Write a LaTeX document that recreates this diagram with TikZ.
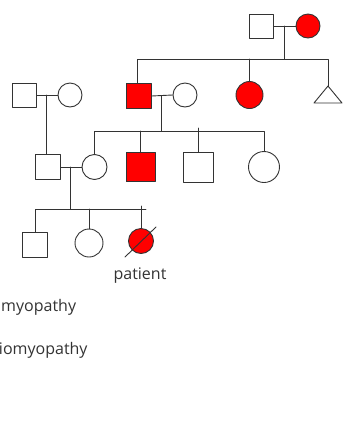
\documentclass[tikz,border=0pt]{standalone}
\usepackage{fontspec}
\setmainfont{Open Sans}
\usepackage{tikz}
\usetikzlibrary{positioning}
\usetikzlibrary{calc}
\definecolor{inkgray}{HTML}{333333}
\tikzstyle{every node}=[font=\fontsize{16}{19}\selectfont,text=inkgray]
\tikzstyle{every path}=[line width=0.9pt,line cap=round,line join=round,color=inkgray]
\tikzstyle{male}=[draw,rectangle,inner sep=0,minimum size=24pt]
\tikzstyle{female}=[draw,circle,inner sep=0,minimum size=24pt]
\tikzstyle{affected}=[fill=red]

\begin{document}
\begin{tikzpicture}[x=1pt,y=-1pt]
  \useasboundingbox (0,0) rectangle (343,440);
  % generation I
  \node[male] (m1) at (261.5,26) {};
  \node[female,affected] (f1) at (308,26) {};
  % generation II
  \node[male] (m2) at (24,95) {};
  \node[female] (f2) at (70,95) {};
  \node[male,affected,minimum size=25pt] (m3) at (138.5,96) {};
  \node[female] (f3) at (185,95) {};
  \node[female,affected,minimum size=27pt] (f4) at (249.5,95) {};
  \coordinate (tri) at (328,86);
  \draw (tri)--++(14,17)--++(-28,0)--cycle;
  % generation III
  \node[male,minimum size=25pt] (m4) at (47.5,167) {};
  \node[female,minimum size=25pt] (f5) at (94.5,167) {};
  \node[male,affected,minimum size=29pt] (m5) at (140.5,167) {};
  \node[male,minimum size=30pt] (m6) at (198,167.5) {};
  \node[female,minimum size=31pt] (f6) at (264,167) {};
  % generation IV
  \node[male,minimum size=25pt] (m7) at (35,244.5) {};
  \node[female,minimum size=28pt] (f7) at (89,243) {};
  \node[female,affected,minimum size=25pt] (f8) at (141,241) {};
  \draw (f8.center)++(-16,16)--++(31,-30);
  \node[inner sep=0,anchor=base] (pat) at (140,279) {patient};
  % legend
  \node[inner sep=0,anchor=base west] (lg1) at (0.8,311) {myopathy};
  \node[inner sep=0,anchor=base east] (lg2) at (88,354) {iomyopathy};
  %
  \coordinate (s1) at (284,59);
  \coordinate (s2) at (161,131);
  \coordinate (s3) at (70,209);
  \draw (m1.east)--(f1.west);
  \draw (s1)--(s1 |- m1.east);
  \draw (m3.north -| 137,0) |- (tri |- s1)--(tri);
  \draw (f4.north)--(f4.north |- s1);
  \draw (m2.east)--(f2.west);
  \draw (m4.north -| 46,0)--(m2.east -| 46,0);
  \draw (m3.east)--(f3.west);
  \draw (s2)--(s2 |- m3.east);
  \draw (f5.north) |- (f6.north |- s2)--(f6.north);
  \draw (m5.north)--(m5.north |- s2);
  \draw (m6.north)--($(m6.north |- s2)+(0,-3)$);
  \draw (m4.east)--(f5.west);
  \draw (s3)--(s3 |- m4.east);
  \draw (m7.north) |- ($(f8.north |- s3)+(5,0)$);
  \draw (f7.north)--(f7.north |- s3);
  \draw (f8.north)--($(f8.north |- s3)+(0,-3)$);
\end{tikzpicture}
\end{document}
